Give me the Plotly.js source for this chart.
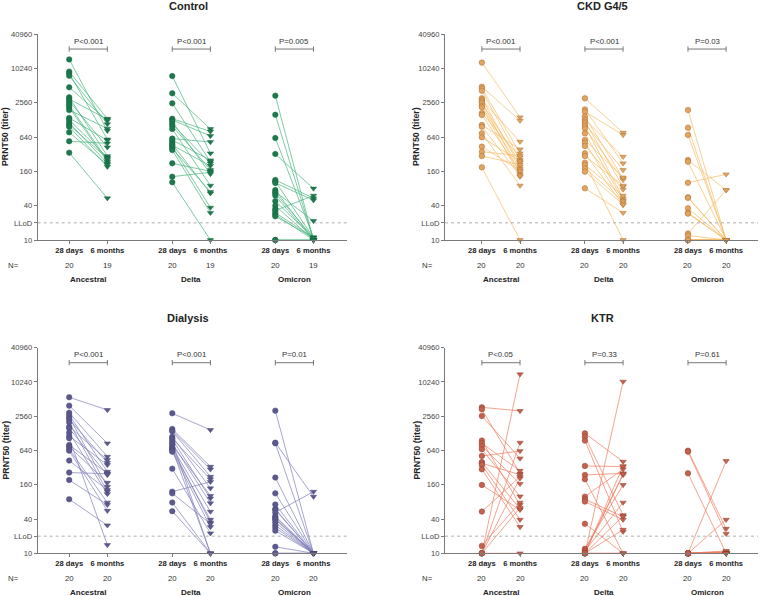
<!DOCTYPE html>
<html><head><meta charset="utf-8">
<script src="https://cdn.plot.ly/plotly-3.0.1.min.js"></script>
<style>html,body{margin:0;padding:0;background:#fff}#chart{width:760px;height:596px}</style>
</head><body><div id="chart"></div>
<script>
// ---------- data ----------
const panelNames = ['Control', 'CKD G4/5', 'Dialysis', 'KTR'];
const variants = ['Ancestral', 'Delta', 'Omicron'];
const timepoints = ['28 days', '6 months'];
const yTickVals = [10, 20, 40, 160, 640, 2560, 10240, 40960];
const yTickText = ['10', 'LLoD', '40', '160', '640', '2560', '10240', '40960'];

const control_anc_28 = [14700, 8960, 8370, 7600, 4750, 3180, 2970, 2740, 2490, 2290, 2100, 1900, 1380, 1270, 1140, 1040, 970, 772, 538, 340];
const control_anc_6  = [826, 1340, 582, 1080, 1240, 297, 1300, 422, null, 253, 236, 900, 560, 282, 221, 270, 193, 210, 496, 54];
const control_del_28 = [7500, 3730, 2490, 1340, 1270, 1190, 1080, 1000, 885, 600, 568, 517, 482, 460, 434, 405, 378, 221, 129, 103];
const control_del_6  = [331, 885, 236, 800, 667, 144, 221, 169, 90, 523, 250, null, 66, 200, 37, 70, 30, 160, 154, 10];
const control_omi_28 = [3400, 1575, 614, 322, 113, 106, 100, 75, 70, 66, 60, 48, 40, 35, 33, 30, 28, 26, 10, 10];
const control_omi_6  = [10, 10, 11, 80, 54, 11, 50, 10, 21.6, 11, 10, 11, 10, null, 60, 11, 10, 11, 10, 10];

const ckd_anc_28 = [12900, 4880, 4560, 4150, 3050, 2850, 2670, 2500, 2240, 2120, 1670, 1560, 1040, 970, 742, 632, 434, 354, 297, 188];
const ckd_anc_6  = [1420, 1240, 331, 253, 193, 530, 144, 227, 176, 129, 282, 158, 389, 135, 90, 240, 165, 300, 210, 10];
const ckd_del_28 = [3050, 1950, 1780, 1460, 1300, 1190, 1100, 998, 907, 742, 568, 509, 446, 331, 297, 227, 207, 180, 158, 80.6];
const ckd_del_6  = [762, 221, 695, 120, 289, 86, 169, 54, 113, 50, 125, 45, 77, 41, 90, 10, 60, 48, 42, 30];
const ckd_omi_28 = [1900, 932, 695, 253, 236, 101, 56, 55, 36, 30, 29, 13, 12, 10, 10, 10, 10, 10, 10, 10];
const ckd_omi_6  = [10, 10, 10, 75, 10, 142, 10, 10, 10, 10, 10, 75, 10, 10, 10, 10, 10, 10, 10, 10];

const dial_anc_28 = [5520, 3930, 2960, 2690, 2450, 2260, 2000, 1680, 1570, 1320, 1150, 1050, 800, 750, 681, 636, 425, 262, 194, 89];
const dial_anc_6  = [3300, 856, 499, 272, 148, 391, 121, 437, 238, 110, 357, 14, 254, 174, 78, 56, 130, 250, 71, 31];
const dial_del_28 = [2880, 1530, 1430, 1400, 1120, 1050, 1000, 917, 856, 800, 730, 700, 672, 640, 610, 307, 121, 113, 78, 55];
const dial_del_6  = [1470, 333, 299, 222, 139, 200, 92, 10, 76, 102, 54, 35, 10, 39, 29, 22.5, 180, 33, 10, 10];
const dial_omi_28 = [3210, 880, 856, 214, 113, 72, 60, 58, 52, 45, 43, 40, 39, 35, 31, 28, 25, 13, 10, 10];
const dial_omi_6  = [10, 99, 10, 10, 10, 10, 10, 10, 121, 10, 10, 10, 10, 10, 10, 10, 10, 10, 10, 10];

const ktr_anc_28 = [3670, 3380, 2590, 955, 856, 768, 672, 513, 400, 381, 357, 299, 159, 54, 13.5, 10, 10, 10, 10, 10];
const ktr_anc_6  = [3170, 254, 465, 71, 283, 166, 100, 627, 60, 240, 39, 29, 58, 222, 78, 14000, 880, 208, 63, 10];
const ktr_del_28 = [1280, 1120, 955, 343, 238, 200, 99, 89, 81, 33, 12, 11, 11, 10, 10, 10, 10, 10, 10, 10];
const ktr_del_6  = [408, 47, 24, 333, 254, 10, 300, 44, 39, 10, 159, 238, 78, 10400, 340, 26, 45, 10, 250, 10];
const ktr_omi_28 = [636, 610, 254, 10, 10, 10, 10, 10, 10, 10, 10, 10, 10, 10, 10, 10, 10, 10, 10, 10];
const ktr_omi_6  = [27, 22, 10, 419, 39, 11, 10.7, 10, 10, 10, 10, 10, 10, 10, 10, 10, 10, 10, 10, 10];

const control_n = [20, 19, 20, 19, 20, 19];
const ckd_n     = [20, 20, 20, 20, 20, 20];
const dial_n    = [20, 20, 20, 20, 20, 20];
const ktr_n     = [20, 20, 20, 20, 20, 20];

const control_p = ['P<0.001', 'P<0.001', 'P=0.005'];
const ckd_p     = ['P<0.001', 'P<0.001', 'P=0.03'];
const dial_p    = ['P<0.001', 'P<0.001', 'P=0.01'];
const ktr_p     = ['P<0.05', 'P=0.33', 'P=0.61'];

// ---------- styling / layout ----------
const FONT = 'Liberation Sans, Arial, sans-serif';
const W = 760, H = 596;
const pos28 = [0, 2.7, 5.4];
const pos6 = [1, 3.7, 6.4];

const panels = [
  {data: [[control_anc_28, control_anc_6], [control_del_28, control_del_6], [control_omi_28, control_omi_6]],
   n: control_n, p: control_p, mk: '#1d7a4f', mkLine: '#17663f', ln: '#48b47e',
   xd: [37.7, 346.7], yd: [34, 240], xr: [-0.825, 7.27], nx: 13, titleX: 188, titleY: 6, ytX: 5},
  {data: [[ckd_anc_28, ckd_anc_6], [ckd_del_28, ckd_del_6], [ckd_omi_28, ckd_omi_6]],
   n: ckd_n, p: ckd_p, mk: '#e3a45f', mkLine: '#a86c2e', ln: '#f6bb66',
   xd: [445, 758], yd: [34, 240], xr: [-0.966, 7.235], nx: 427, titleX: 602, titleY: 6, ytX: 416},
  {data: [[dial_anc_28, dial_anc_6], [dial_del_28, dial_del_6], [dial_omi_28, dial_omi_6]],
   n: dial_n, p: dial_p, mk: '#5c5a8e', mkLine: '#4a4878', ln: '#7f7eba',
   xd: [37.7, 346.7], yd: [347.7, 553.3], xr: [-0.825, 7.27], nx: 13, titleX: 188, titleY: 318, ytX: 5},
  {data: [[ktr_anc_28, ktr_anc_6], [ktr_del_28, ktr_del_6], [ktr_omi_28, ktr_omi_6]],
   n: ktr_n, p: ktr_p, mk: '#c4624c', mkLine: '#8e3f2e', ln: '#f07c60',
   xd: [445, 758], yd: [347.7, 553.3], xr: [-0.966, 7.235], nx: 427, titleX: 602, titleY: 318, ytX: 416}
];

const traces = [];
const shapes = [];
const annotations = [];
const layout = {
  width: W, height: H, margin: {l: 0, r: 0, t: 0, b: 0},
  paper_bgcolor: '#fff', plot_bgcolor: '#fff', showlegend: false,
  font: {family: FONT, color: '#333'}
};

panels.forEach((pn, k) => {
  const sfx = k === 0 ? '' : String(k + 1);
  const xa = 'x' + sfx, ya = 'y' + sfx;
  layout['xaxis' + sfx] = {
    domain: [pn.xd[0] / W, pn.xd[1] / W], anchor: ya, range: pn.xr,
    showgrid: false, zeroline: false, showline: true, linecolor: '#7a7a7a', linewidth: 1,
    ticks: 'outside', ticklen: 3, tickcolor: '#7a7a7a',
    tickvals: pos28.concat(pos6),
    ticktext: pos28.map(() => '<b>' + timepoints[0] + '</b>').concat(pos6.map(() => '<b>' + timepoints[1] + '</b>')),
    tickfont: {family: FONT, size: 7.6, color: '#222'}, fixedrange: true
  };
  layout['yaxis' + sfx] = {
    domain: [1 - pn.yd[1] / H, 1 - pn.yd[0] / H], anchor: xa, type: 'log',
    range: [Math.log10(10), Math.log10(40960)],
    showgrid: false, zeroline: false, showline: true, linecolor: '#7a7a7a', linewidth: 1,
    ticks: 'outside', ticklen: 3, tickcolor: '#7a7a7a',
    tickvals: yTickVals, ticktext: yTickText,
    tickfont: {family: FONT, size: 7.6, color: '#444'}, fixedrange: true
  };

  pn.data.forEach((pair, g) => {
    const a = pair[0], b = pair[1];
    const lx = [], ly = [];
    a.forEach((v, i) => {
      if (b[i] !== null && b[i] !== undefined) {
        lx.push(pos28[g], pos6[g], null);
        ly.push(v, b[i], null);
      }
    });
    traces.push({type: 'scatter', mode: 'lines', x: lx, y: ly, xaxis: xa, yaxis: ya,
      line: {color: pn.ln, width: 0.7}, hoverinfo: 'skip', cliponaxis: false});
  });
  pn.data.forEach((pair, g) => {
    const a = pair[0], b = pair[1].filter(v => v !== null);
    traces.push({type: 'scatter', mode: 'markers', x: a.map(() => pos28[g]), y: a, xaxis: xa, yaxis: ya,
      marker: {symbol: 'circle', size: 5.5, color: pn.mk, line: {color: pn.mkLine, width: 0.5}}, cliponaxis: false});
    traces.push({type: 'scatter', mode: 'markers', x: b.map(() => pos6[g]), y: b, xaxis: xa, yaxis: ya,
      marker: {symbol: 'triangle-down', size: 5.5, color: pn.mk, line: {color: pn.mkLine, width: 0.5}}, cliponaxis: false});

    const yb = 0.927, dt = 0.013;
    const sline = {color: '#777', width: 1};
    shapes.push({type: 'line', xref: xa, yref: ya + ' domain', x0: pos28[g], x1: pos6[g], y0: yb, y1: yb, line: sline});
    shapes.push({type: 'line', xref: xa, yref: ya + ' domain', x0: pos28[g], x1: pos28[g], y0: yb - dt, y1: yb + dt, line: sline});
    shapes.push({type: 'line', xref: xa, yref: ya + ' domain', x0: pos6[g], x1: pos6[g], y0: yb - dt, y1: yb + dt, line: sline});
    annotations.push({xref: xa, yref: ya + ' domain', x: (pos28[g] + pos6[g]) / 2, y: 0.966,
      text: pn.p[g], showarrow: false, font: {family: FONT, size: 7.8, color: '#333'}, xanchor: 'center', yanchor: 'middle'});

    const nRowY = 1 - (pn.yd[1] + 25) / H;
    const grpY = 1 - (pn.yd[1] + 39) / H;
    annotations.push({xref: xa, yref: 'paper', x: pos28[g], y: nRowY, text: String(pn.n[2 * g]), showarrow: false,
      font: {family: FONT, size: 7.8, color: '#333'}, xanchor: 'center', yanchor: 'middle'});
    annotations.push({xref: xa, yref: 'paper', x: pos6[g], y: nRowY, text: String(pn.n[2 * g + 1]), showarrow: false,
      font: {family: FONT, size: 7.8, color: '#333'}, xanchor: 'center', yanchor: 'middle'});
    annotations.push({xref: xa, yref: 'paper', x: (pos28[g] + pos6[g]) / 2, y: grpY, text: '<b>' + variants[g] + '</b>', showarrow: false,
      font: {family: FONT, size: 8, color: '#222'}, xanchor: 'center', yanchor: 'middle'});
  });

  shapes.push({type: 'line', xref: xa + ' domain', yref: ya + ' domain', x0: 0, x1: 1,
    y0: Math.log10(2) / Math.log10(4096), y1: Math.log10(2) / Math.log10(4096),
    line: {color: '#9a9a9a', width: 0.8, dash: 'dot'}});

  annotations.push({xref: 'paper', yref: 'paper', x: pn.nx / W, y: 1 - (pn.yd[1] + 25) / H, text: 'N=', showarrow: false,
    font: {family: FONT, size: 7.8, color: '#333'}, xanchor: 'center', yanchor: 'middle'});
  annotations.push({xref: 'paper', yref: 'paper', x: pn.titleX / W, y: 1 - pn.titleY / H, text: '<b>' + panelNames[k] + '</b>',
    showarrow: false, font: {family: FONT, size: 11, color: '#222'}, xanchor: 'center', yanchor: 'middle'});
  annotations.push({xref: 'paper', yref: 'paper', x: pn.ytX / W, y: 1 - ((pn.yd[0] + pn.yd[1]) / 2) / H,
    text: '<b>PRNT50 (titer)</b>', textangle: -90, showarrow: false,
    font: {family: FONT, size: 8.8, color: '#222'}, xanchor: 'center', yanchor: 'middle'});
});

layout.shapes = shapes;
layout.annotations = annotations;
Plotly.newPlot('chart', traces, layout, {displayModeBar: false, staticPlot: true});
</script></body></html>
